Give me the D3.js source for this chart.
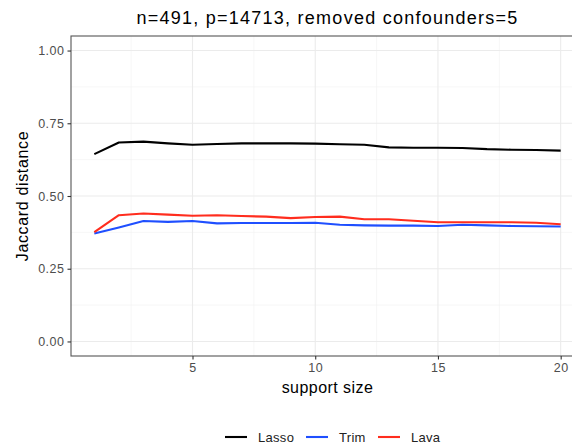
<!DOCTYPE html>
<html>
<head>
<meta charset="utf-8">
<script src="https://cdn.jsdelivr.net/npm/d3@7"></script>
<style>
  html, body { margin: 0; padding: 0; background: #fff; }
  svg { display: block; font-family: "Liberation Sans", Arial, sans-serif; }
</style>
</head>
<body>
<svg id="chart" width="572" height="446"></svg>
<script>
// Support sizes 1..20
const supportSize = [1,2,3,4,5,6,7,8,9,10,11,12,13,14,15,16,17,18,19,20];
const lassoValues = [0.644,0.684,0.687,0.681,0.676,0.679,0.681,0.681,0.681,0.680,0.678,0.676,0.667,0.666,0.666,0.665,0.661,0.659,0.658,0.656];
const trimValues  = [0.371,0.392,0.414,0.411,0.414,0.406,0.407,0.407,0.407,0.408,0.401,0.399,0.398,0.398,0.397,0.401,0.399,0.397,0.396,0.395];
const lavaValues  = [0.376,0.434,0.440,0.436,0.432,0.434,0.431,0.429,0.424,0.428,0.429,0.420,0.420,0.415,0.410,0.410,0.410,0.410,0.408,0.403];
const seriesNames = ["Lasso","Trim","Lava"];
const seriesColors = ["#000000","#1f4fff","#ff2d1e"];
const yTicks = [0, 0.25, 0.5, 0.75, 1];
const xTicks = [5, 10, 15, 20];
const titleText = "n=491, p=14713, removed confounders=5";

const series = [lassoValues, trimValues, lavaValues].map((vals, i) => ({
  name: seriesNames[i], color: seriesColors[i],
  points: supportSize.map((s, j) => ({ x: s, y: vals[j] }))
}));

const svg = d3.select("#chart");
const panel = { left: 71, top: 36, right: 584, bottom: 356 };
const panelCx = (panel.left + panel.right) / 2;
const panelCy = (panel.top + panel.bottom) / 2;

const x = d3.scaleLinear().domain([0.05, 20.95]).range([panel.left, panel.right]);
const y = d3.scaleLinear().domain([-0.05, 1.05]).range([panel.bottom, panel.top]);

svg.append("defs").append("clipPath").attr("id", "panelClip")
  .append("rect").attr("x", panel.left).attr("y", panel.top)
  .attr("width", panel.right - panel.left).attr("height", panel.bottom - panel.top);

const g = svg.append("g").attr("clip-path", "url(#panelClip)");

// minor grid
const yMinor = [0.125, 0.375, 0.625, 0.875];
const xMinor = [2.5, 7.5, 12.5, 17.5];
g.selectAll(".ymin").data(yMinor).enter().append("line")
  .attr("x1", panel.left).attr("x2", panel.right)
  .attr("y1", d => y(d)).attr("y2", d => y(d))
  .attr("stroke", "#f2f2f2").attr("stroke-width", 0.6);
g.selectAll(".xmin").data(xMinor).enter().append("line")
  .attr("y1", panel.top).attr("y2", panel.bottom)
  .attr("x1", d => x(d)).attr("x2", d => x(d))
  .attr("stroke", "#f2f2f2").attr("stroke-width", 0.6);
// major grid
g.selectAll(".ymaj").data(yTicks).enter().append("line")
  .attr("x1", panel.left).attr("x2", panel.right)
  .attr("y1", d => y(d)).attr("y2", d => y(d))
  .attr("stroke", "#ebebeb").attr("stroke-width", 1.1);
g.selectAll(".xmaj").data(xTicks).enter().append("line")
  .attr("y1", panel.top).attr("y2", panel.bottom)
  .attr("x1", d => x(d)).attr("x2", d => x(d))
  .attr("stroke", "#ebebeb").attr("stroke-width", 1.1);

// series lines
const line = d3.line().x(d => x(d.x)).y(d => y(d.y));
g.selectAll(".series").data(series).enter().append("path")
  .attr("d", d => line(d.points))
  .attr("fill", "none")
  .attr("stroke", d => d.color)
  .attr("stroke-width", 2.1)
  .attr("stroke-linejoin", "round");

// panel border
svg.append("rect")
  .attr("x", panel.left).attr("y", panel.top)
  .attr("width", panel.right - panel.left).attr("height", panel.bottom - panel.top)
  .attr("fill", "none").attr("stroke", "#555").attr("stroke-width", 1.1);

// axes
const yAxis = svg.append("g").attr("transform", `translate(${panel.left},0)`)
  .call(d3.axisLeft(y).tickValues(yTicks).tickFormat(d3.format(".2f")).tickSize(3.5).tickPadding(3));
const xAxis = svg.append("g").attr("transform", `translate(0,${panel.bottom})`)
  .call(d3.axisBottom(x).tickValues(xTicks).tickFormat(d3.format("d")).tickSize(3.5).tickPadding(4));
[yAxis, xAxis].forEach(a => {
  a.select(".domain").remove();
  a.selectAll(".tick line").attr("stroke", "#333").attr("stroke-width", 1.1);
  a.selectAll(".tick text").attr("fill", "#4d4d4d").style("font-size", "12.5px")
    .style("letter-spacing", "0.5px")
    .style("font-family", "'Liberation Sans', Arial, sans-serif");
});

// titles
svg.append("text").attr("x", panelCx).attr("y", 24)
  .attr("text-anchor", "middle").attr("fill", "#000").style("font-size", "18px")
  .style("letter-spacing", "1.25px")
  .text(titleText);
svg.append("text").attr("x", panelCx).attr("y", 393)
  .attr("text-anchor", "middle").attr("fill", "#000").style("font-size", "16px")
  .style("letter-spacing", "0.45px")
  .text("support size");
svg.append("text").attr("transform", `translate(28,${panelCy}) rotate(-90)`)
  .attr("text-anchor", "middle").attr("fill", "#000").style("font-size", "16px")
  .style("letter-spacing", "0.65px")
  .text("Jaccard distance");

// legend
const legendX = [225, 306, 378];
const legend = svg.selectAll(".leg").data(series).enter().append("g")
  .attr("transform", (d, i) => `translate(${legendX[i]},437)`);
legend.append("line").attr("x1", 0).attr("x2", 22).attr("y1", 0).attr("y2", 0)
  .attr("stroke", d => d.color).attr("stroke-width", 2.1);
legend.append("text").attr("x", 33).attr("y", 4.5).attr("fill", "#222")
  .style("font-size", "13px").style("letter-spacing", "0.3px").text(d => d.name);
</script>
</body>
</html>
